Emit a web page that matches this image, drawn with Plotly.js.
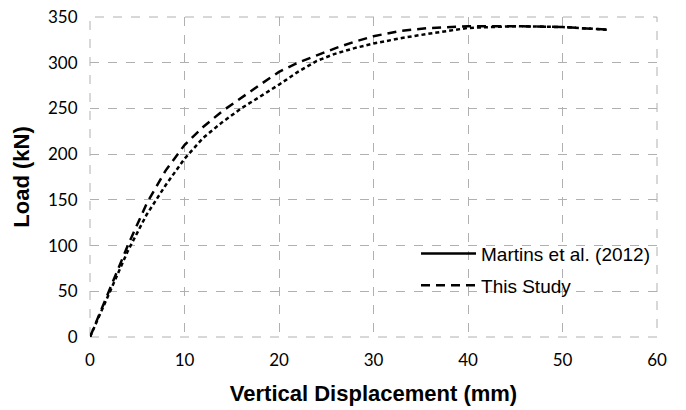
<!DOCTYPE html>
<html>
<head>
<meta charset="utf-8">
<script src="https://cdn.plot.ly/plotly-3.0.1.min.js"></script>
<style>html,body{margin:0;padding:0;background:#fff;}#chart{width:686px;height:410px;}</style>
</head>
<body>
<div id="chart"></div>
<script>
var studyX = [0, 2, 4, 6, 8, 10, 12, 14, 16, 18, 20, 22, 24, 26, 28, 30, 33, 36, 40, 45, 50, 55];
var studyY = [0, 50, 100, 146, 182, 210, 230, 247, 262, 276, 290, 300, 308, 316, 323, 329, 335, 338, 340, 340, 339, 336];
var martinsX = [0, 2, 4, 6, 8, 10, 12, 14, 16, 18, 20, 22, 24, 26, 28, 30, 33, 36, 40, 45, 50, 55];
var martinsY = [0, 48, 94, 134, 166, 195, 218, 235, 250, 263, 276, 290, 302, 310, 316, 321, 327, 332, 338, 340, 339, 336];
var xTicks = [0, 10, 20, 30, 40, 50, 60];
var yTicks = [0, 50, 100, 150, 200, 250, 300, 350];

var traces = [
  {x: martinsX, y: martinsY, mode: 'lines', name: 'Martins et al. (2012)', showlegend: false,
   line: {color: '#000', width: 2.5, dash: '4px,3px'}},
  {x: [null], y: [null], mode: 'lines', name: 'Martins et al. (2012)', legendgroup: 'a',
   line: {color: '#000', width: 2.5}},
  {x: studyX, y: studyY, mode: 'lines', name: 'This Study', legendgroup: 'b',
   line: {color: '#000', width: 2.5, dash: '9px,6px'}}
];

var gridStyle = {showgrid: true, gridcolor: '#b0b0b0', griddash: 'dash', gridwidth: 1, zeroline: false, showline: false,
  ticks: 'outside', tickcolor: 'rgba(0,0,0,0)'};

var layout = {
  width: 686, height: 410,
  margin: {l: 90, r: 29, t: 17, b: 73},
  paper_bgcolor: '#fff', plot_bgcolor: '#fff',
  font: {family: 'Lato, "Liberation Sans", sans-serif', color: '#000'},
  xaxis: Object.assign({}, gridStyle, {
    range: [0, 60], tickvals: xTicks, ticktext: xTicks.map(String), ticklen: 8,
    tickfont: {size: 17, family: 'Lato, sans-serif', color: '#000'},
    title: {text: 'Vertical Displacement (mm)', font: {size: 22, family: '"Liberation Sans", Arial, sans-serif', weight: 'bold', color: '#000'}, standoff: 16}
  }),
  yaxis: Object.assign({}, gridStyle, {
    range: [0, 350], tickvals: yTicks, ticktext: yTicks.map(String), ticklen: 8,
    tickfont: {size: 17, family: 'Lato, sans-serif', color: '#000'},
    title: {text: 'Load (kN)', font: {size: 22, family: '"Liberation Sans", Arial, sans-serif', weight: 'bold', color: '#000'}, standoff: 12}
  }),
  legend: {x: 0.575, y: 0.32, xanchor: 'left', yanchor: 'top', bgcolor: 'rgba(0,0,0,0)',
    font: {size: 19, family: '"Liberation Sans", Arial, sans-serif', color: '#000'},
    itemwidth: 55, tracegroupgap: 4},
  shapes: [{type: 'rect', xref: 'paper', yref: 'paper', x0: 0, x1: 1, y0: 0, y1: 1,
    line: {color: '#b0b0b0', width: 1, dash: 'dash'}, layer: 'below'}]
};

Plotly.newPlot('chart', traces, layout, {displayModeBar: false, staticPlot: true});
</script>
</body>
</html>
